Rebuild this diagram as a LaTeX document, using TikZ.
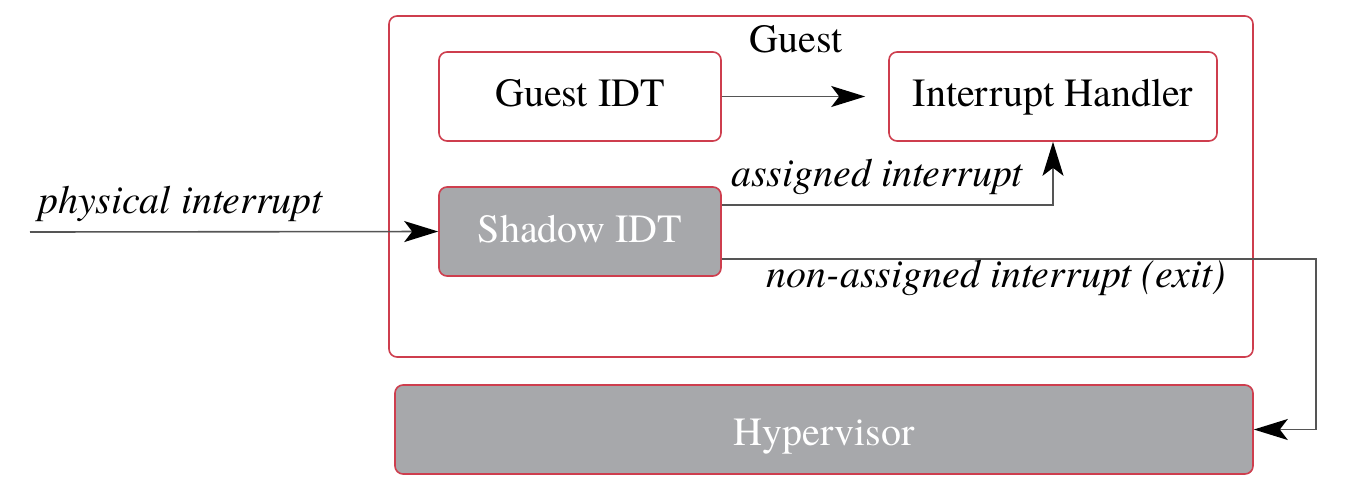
\documentclass[tikz,border=0pt]{standalone}
\usepackage{fontspec}
\setmainfont{texgyretermes}[Extension=.otf, UprightFont=*-regular, ItalicFont=*-italic, BoldFont=*-bold, BoldItalicFont=*-bolditalic]
\usetikzlibrary{arrows.meta}
\definecolor{boxred}{RGB}{206,62,78}
\definecolor{boxgray}{RGB}{167,168,171}
\definecolor{linegray}{RGB}{85,85,85}
\begin{document}
\begin{tikzpicture}[x=0.5pt,y=-0.5pt,
  box/.style={draw=boxred, line width=0.8pt, rounded corners=4pt, inner sep=0pt},
  wbox/.style={box, fill=white, text=black},
  gbox/.style={box, fill=boxgray, text=white},
  ttl/.style={font=\fontsize{20}{24}\selectfont, text height=9.5pt, text depth=0pt},
  lbl/.style={font=\fontsize{20}{24}\selectfont\itshape, anchor=base, inner sep=0pt},
  conn/.style={draw=linegray, line width=0.8pt, -{Stealth[length=17pt,width=10.5pt,inset=4pt,color=black,fill=black]}}]
\useasboundingbox (0,0) rectangle (1364,493);
% containers
\node[box, fill=white, minimum width=432pt, minimum height=170.5pt] (guest) at (821,186.5) {};
\node[font=\fontsize{20}{24}\selectfont, anchor=base, inner sep=0pt] (guestlbl) at (796,52) {Guest};
\node[wbox, ttl, minimum width=141pt, minimum height=44.5pt] (gidt) at (580,96.5) {Guest IDT};
\node[wbox, ttl, minimum width=164pt, minimum height=44.5pt] (handler) at (1053,96.5) {Interrupt Handler};
\node[gbox, ttl, text height=10.5pt, minimum width=141pt, minimum height=44.5pt] (shadow) at (580,231.5) {Shadow IDT};
\node[gbox, ttl, text height=15.5pt, minimum width=429pt, minimum height=44.5pt] (hyp) at (824,429.5) {Hypervisor};
% free ends
\coordinate (pin) at (30,232);
\coordinate (turn) at (1316,300);
% connectors
\draw[conn, shorten >=11.5pt] (gidt) -- (handler);
\draw[conn] (pin) -- (shadow.west);
\draw[conn] ([yshift=13.25pt]shadow.east) -| (handler.south);
\draw[conn] ([yshift=-13.75pt]shadow.east) -| (turn) |- (hyp.east);
% labels
\node[lbl] (lphys) at (180.5,213) {physical interrupt};
\node[lbl] (lassign) at (877,186) {assigned interrupt};
\node[lbl] (lnon) at (996.5,287) {non-assigned interrupt (exit)};
\end{tikzpicture}
\end{document}
